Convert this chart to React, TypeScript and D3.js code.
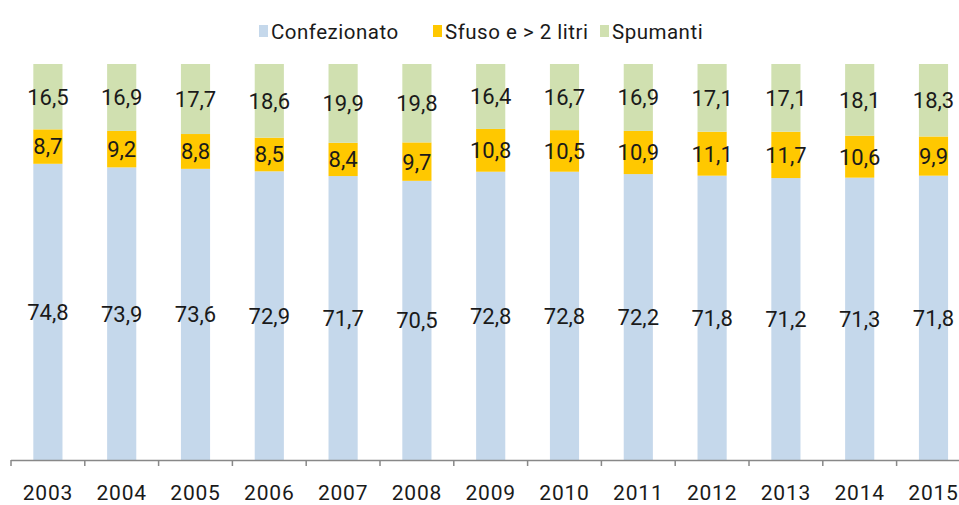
import React from "react";
import * as d3 from "d3";

const years = ["2003","2004","2005","2006","2007","2008","2009","2010","2011","2012","2013","2014","2015"];
const confezionato = [74.8,73.9,73.6,72.9,71.7,70.5,72.8,72.8,72.2,71.8,71.2,71.3,71.8];
const sfuso = [8.7,9.2,8.8,8.5,8.4,9.7,10.8,10.5,10.9,11.1,11.7,10.6,9.9];
const spumanti = [16.5,16.9,17.7,18.6,19.9,19.8,16.4,16.7,16.9,17.1,17.1,18.1,18.3];
const seriesNames = ["Confezionato", "Sfuso e > 2 litri", "Spumanti"];
const colors = ["#c5d8eb", "#ffc800", "#d0e0b0"];

const W = 959, H = 505;
const FONT = "Roboto, 'Liberation Sans', sans-serif";

export default function App() {
  const rows = years.map((y, i) => ({ year: y, c: confezionato[i], s: sfuso[i], p: spumanti[i] }));
  const stack = d3.stack<any>().keys(["c", "s", "p"]).offset(d3.stackOffsetExpand);
  const layers = stack(rows);
  const x = d3.scaleBand().domain(years).range([11, 11 + 73.8 * 13]).paddingInner(0.605).paddingOuter(0.3025);
  const xb = d3.scaleBand().domain(years).range([11, 11 + 73.8 * 13]);
  const y = d3.scaleLinear().domain([0, 1]).range([460, 64]);
  const fmt = (v: number) => v.toFixed(1).replace(".", ",");
  const legendX = [259, 433, 600];
  return (
    <svg width={W} height={H} style={{ position: "absolute", left: 0, top: 0 }} fontFamily={FONT}>
      <rect width={W} height={H} fill="#fff" />
      {layers.map((layer, li) => (
        <g key={li}>
          {layer.map((d, i) => (
            <rect key={i} x={x(years[i])} width={x.bandwidth()} y={y(d[1])} height={y(d[0]) - y(d[1])} fill={colors[li]} />
          ))}
          {layer.map((d, i) => {
            const vals = [confezionato, sfuso, spumanti][li];
            return (
              <text key={"t" + i} x={x(years[i])! + x.bandwidth() / 2} y={(y(d[0]) + y(d[1])) / 2} dy="0.36em"
                textAnchor="middle" fontSize={22} fill="#1a1a1a">{fmt(vals[i])}</text>
            );
          })}
        </g>
      ))}
      <line x1={11} x2={W} y1={460.5} y2={460.5} stroke="#888" strokeWidth={1.5} />
      {years.map((yr) => (
        <line key={yr} x1={xb(yr)!} x2={xb(yr)!} y1={460} y2={466} stroke="#888" strokeWidth={1.5} />
      ))}
      {years.map((yr) => (
        <text key={"l" + yr} x={xb(yr)! + xb.bandwidth() / 2} y={500} textAnchor="middle" fontSize={21} letterSpacing={0.8} fill="#1a1a1a">{yr}</text>
      ))}
      {seriesNames.map((n, i) => (
        <g key={n}>
          <rect x={legendX[i]} y={25} width={9} height={12} fill={colors[i]} />
          <text x={legendX[i] + 12} y={39} fontSize={20.5} letterSpacing={0.5} fill="#1a1a1a">{n}</text>
        </g>
      ))}
    </svg>
  );
}
